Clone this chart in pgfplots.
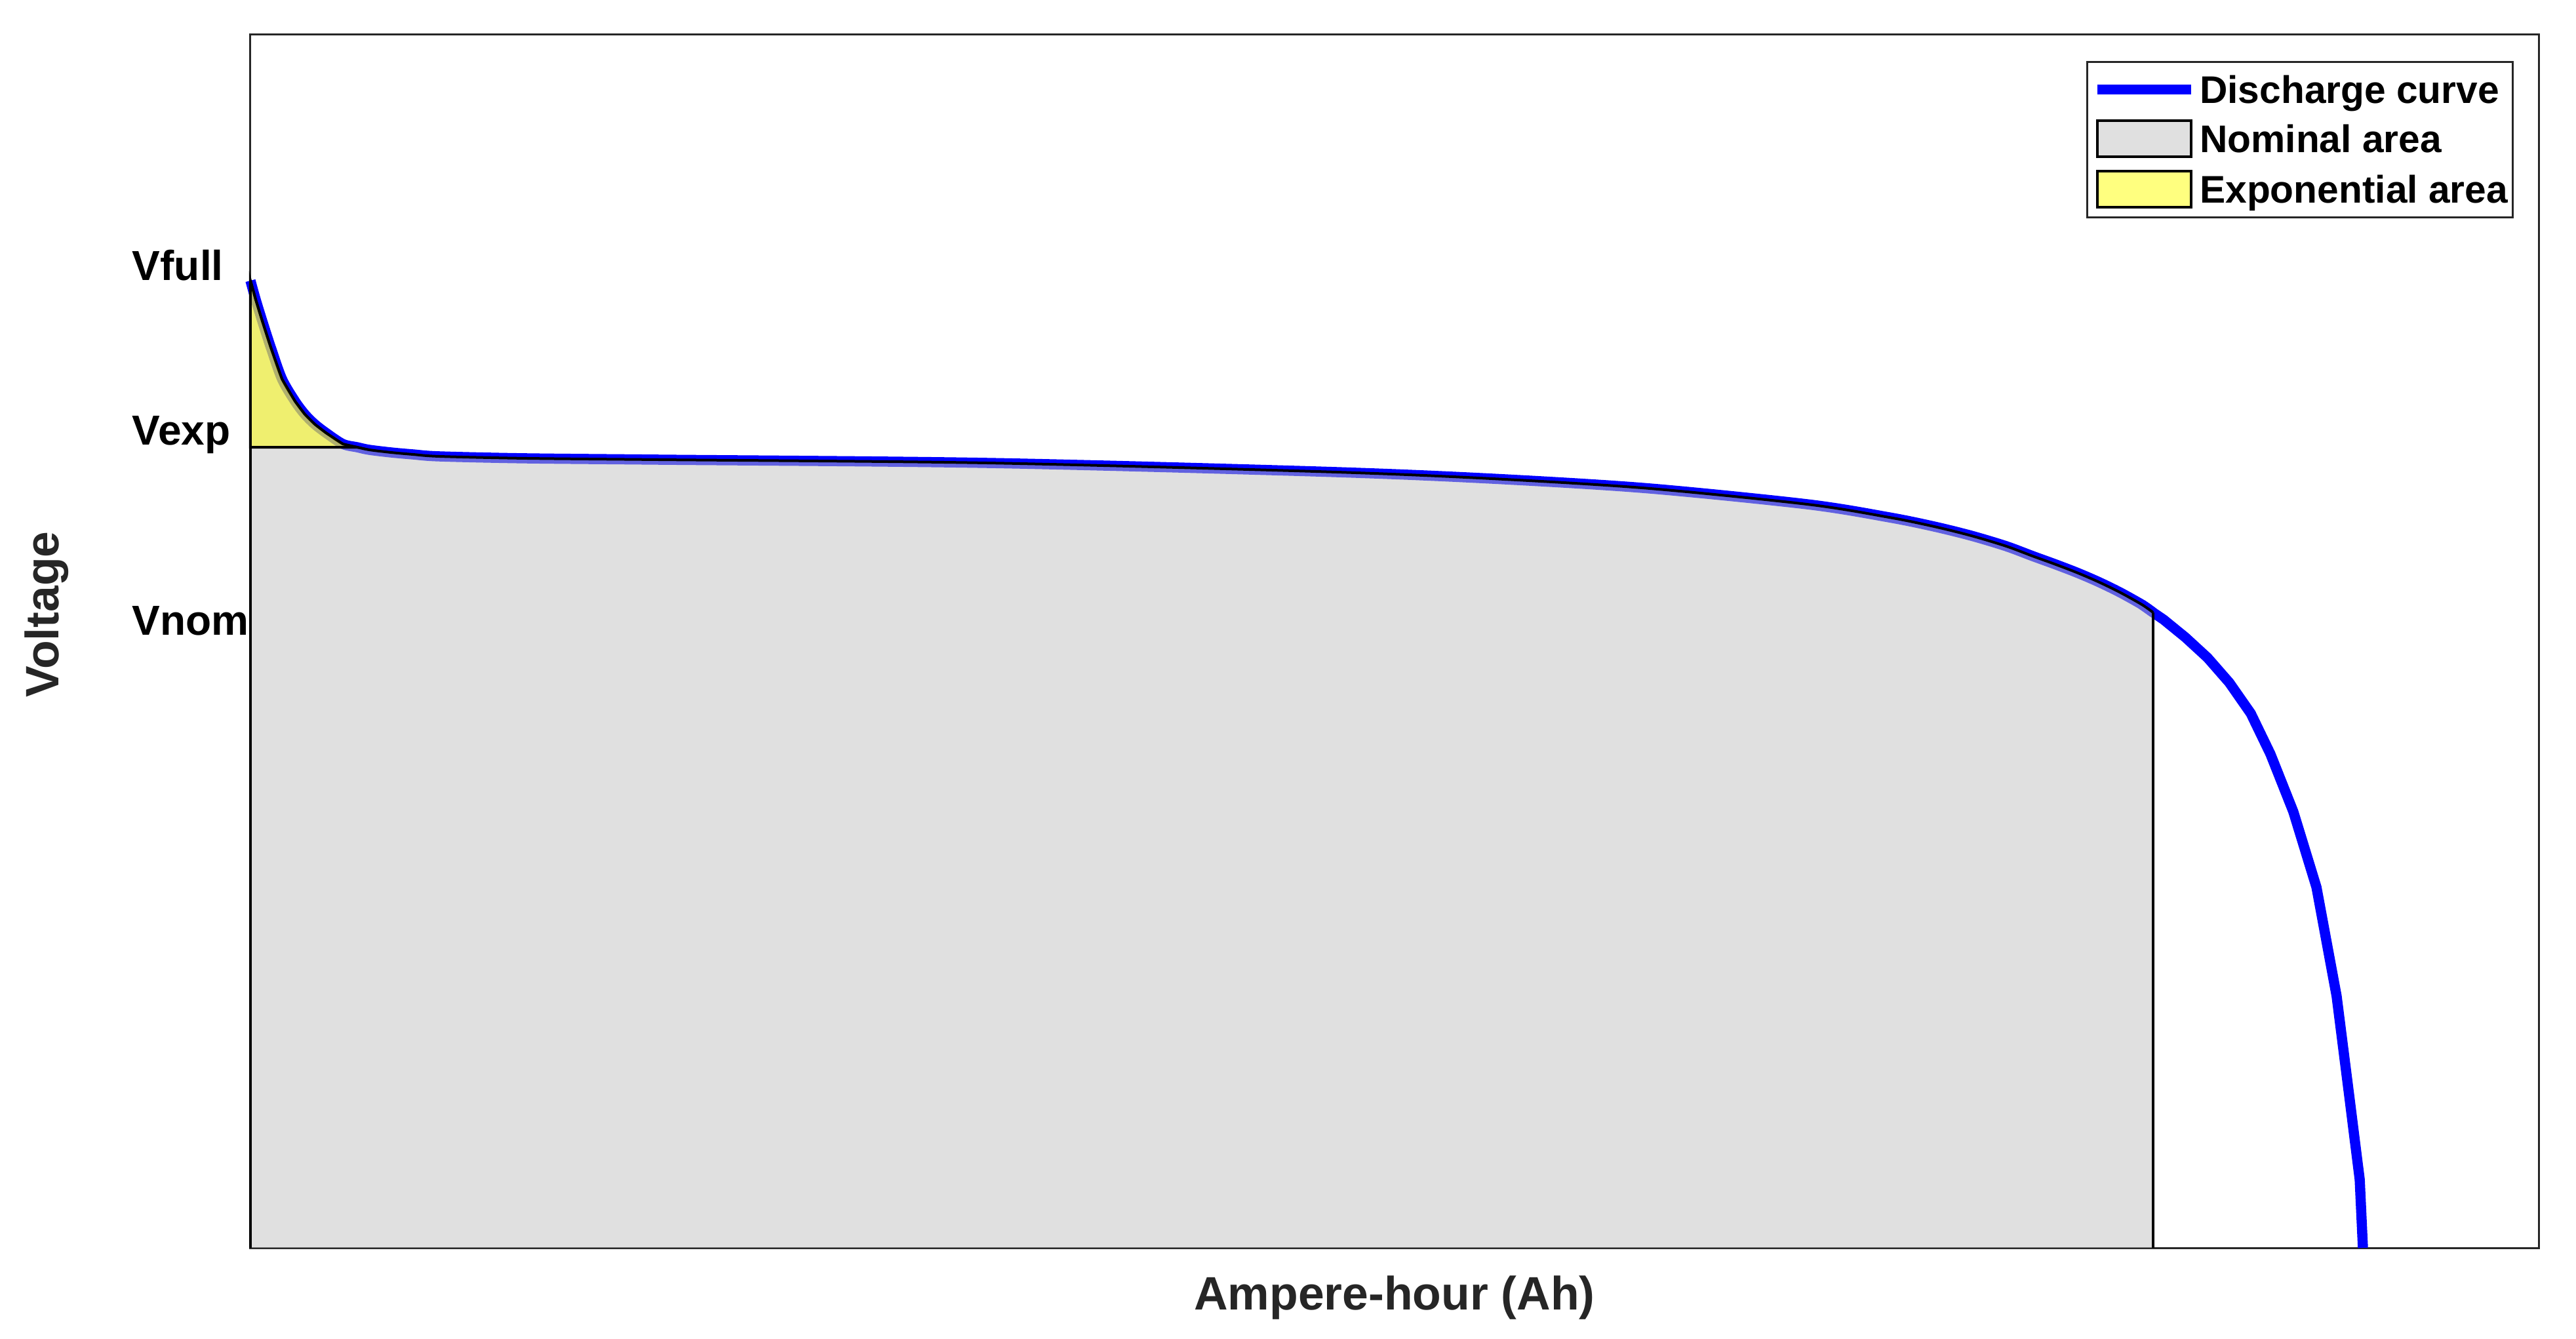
\documentclass[border=0pt]{standalone}
\usepackage{fontspec}
\setmainfont{Liberation Sans}
\usepackage{pgfplots}
\usepackage{pgfplotstable}
\pgfplotsset{compat=1.18}
\definecolor{curveblue}{RGB}{0,0,255}
\definecolor{nomgray}{RGB}{194,194,194}
\definecolor{expyellow}{RGB}{255,255,0}
\definecolor{axisgray}{RGB}{38,38,38}

\pgfplotsset{
  lineleg/.style={legend image code/.code={\draw[##1] (0pt,0pt) -- (14.3pt,0pt);}},
  patchleg/.style={legend image code/.code={\draw[##1, draw=black, line width=0.4pt] (0pt,-2.75pt) rectangle (14.3pt,2.75pt);}},
}

% Discharge curve, flat part up to Vnom (Ah, voltage in chart units)
\pgfplotstableread{
x y
0.00 79.69
0.23 78.12
0.52 76.34
0.89 74.18
1.38 71.58
1.95 69.75
2.38 68.67
2.81 67.86
3.30 67.15
4.04 66.23
4.67 65.96
5.19 65.75
6.16 65.53
7.11 65.37
8.25 65.21
11.98 65.05
17.77 64.94
32.15 64.67
46.50 63.97
53.67 63.43
60.86 62.61
68.05 61.26
71.63 60.18
73.58 59.43
75.21 58.67
76.73 57.81
77.88 57.00
78.83 56.35
79.80 55.65
80.74 54.89
81.69 54.02
82.66 53.00
83.15 52.35
}\nomtable

% Discharge curve, steep end after Vnom
\pgfplotstableread{
x y
82.66 53.00
83.15 52.35
83.61 51.76
84.56 50.30
85.53 48.62
86.48 46.57
87.42 44.03
88.28 40.68
89.28 35.93
90.29 29.71
91.17 20.75
91.75 12.10
92.18 5.62
92.32 0.00
}\endtable

% Straight edges of the nominal area
\pgfplotstableread{
x y
0.00 0.00
0.00 79.69
}\nomleft
\pgfplotstableread{
x y
83.15 52.35
83.15 0.00
}\nomright

% Exponential area (between the curve and Vexp)
\pgfplotstableread{
x y
0.00 79.69
0.23 78.12
0.52 76.34
0.89 74.18
1.38 71.58
1.95 69.75
2.38 68.67
2.81 67.86
3.30 67.15
4.04 66.23
4.67 65.96
0.00 65.96
}\exptable

\begin{document}
\begin{tikzpicture}
\begin{axis}[
  name=ax,
  scale only axis,
  width=349pt, height=185.1pt,
  xmin=0, xmax=100, ymin=0, ymax=100,
  clip=false,
  xtick=\empty,
  ytick={50.51,66.18,79.69},
  yticklabels={Vnom,Vexp,Vfull},
  major tick length=0pt,
  yticklabel style={anchor=base west, xshift=-18.2pt, inner sep=0pt,
    font=\fontsize{6.4}{7.5}\selectfont\bfseries, text=black},
  xlabel={Ampere-hour (Ah)},
  ylabel={Voltage},
  xlabel style={at={([yshift=-9.4pt]rel axis cs:0.5,0)}, anchor=base,
    font=\fontsize{7.15}{8}\selectfont\bfseries, text=axisgray},
  ylabel style={at={([xshift=-29.2pt]rel axis cs:0,0.522)}, anchor=base,
    font=\fontsize{7.15}{8}\selectfont\bfseries, text=axisgray},
  axis line style={draw=axisgray, line width=0.3pt},
  legend cell align=left,
  legend style={
    at={(1,1)}, anchor=north east, xshift=-3.8pt, yshift=-4.1pt,
    draw=axisgray, line width=0.3pt, fill=white,
    inner xsep=0.75pt, inner ysep=1.4pt,
    font=\fontsize{5.87}{7}\selectfont\bfseries,
    row sep=1.75pt, column sep=0.6pt,
    nodes={inner sep=0pt, text height=4.9pt, text depth=0.7pt},
  },
]
\addplot[curveblue, line width=1.55pt, smooth, lineleg] table {\nomtable};
\addlegendentry{Discharge curve}
\addplot[curveblue, line width=1.55pt, forget plot] table {\endtable};

\addplot[draw=none, fill=nomgray, fill opacity=0.5, smooth, patchleg]
  table {\nomtable} \closedcycle;
\addlegendentry{Nominal area}

\addplot[black, line width=0.4pt, smooth, forget plot] table {\nomtable};
\addplot[black, line width=0.4pt, forget plot] table {\nomleft};
\addplot[black, line width=0.4pt, forget plot] table {\nomright};

\addplot[draw=black, line width=0.4pt, fill=expyellow, fill opacity=0.5, patchleg]
  table {\exptable} -- cycle;
\addlegendentry{Exponential area}
\end{axis}
\pgfresetboundingbox
\path[use as bounding box] ([xshift=-38.2pt,yshift=-13.8pt]ax.south west) rectangle ([xshift=5.7pt,yshift=5.2pt]ax.north east);
\end{tikzpicture}
\end{document}
